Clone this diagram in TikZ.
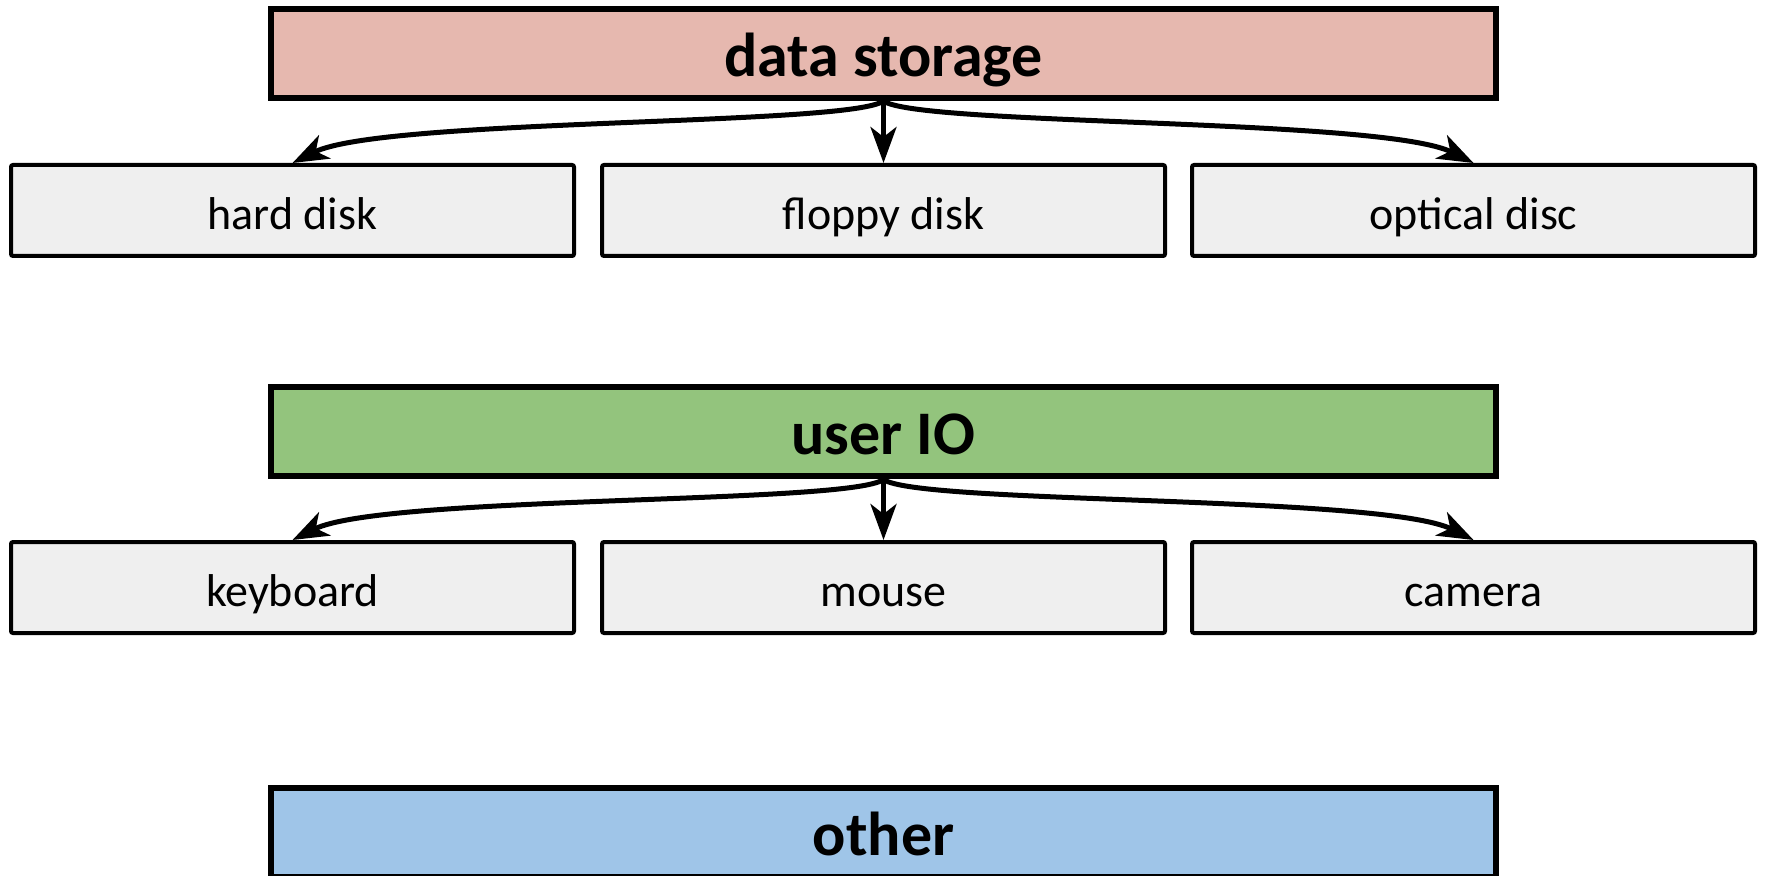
\documentclass[tikz,border=0pt]{standalone}
\usepackage{fontspec}
\setmainfont{Carlito}
\usetikzlibrary{arrows.meta}
\definecolor{hdred}{HTML}{E6B8AF}
\definecolor{hdgreen}{HTML}{93C47D}
\definecolor{hdblue}{HTML}{9FC5E8}
\definecolor{childgray}{HTML}{EFEFEF}
\tikzset{
  headbox/.style={draw=black, line width=3pt, minimum width=612.5pt, minimum height=44.5pt, inner sep=0pt, text height=23pt, text depth=0pt, font=\fontsize{31}{36}\selectfont\bfseries},
  childbox/.style={draw=black, line width=2pt, fill=childgray, rounded corners=1pt, minimum width=281.5pt, minimum height=45.5pt, inner sep=0pt, text height=19pt, text depth=0pt, font=\fontsize{23}{28}\selectfont},
  conn/.style={line width=2.5pt, -{Stealth[length=18pt,width=13pt,inset=5pt]}}
}
\begin{document}
\begin{tikzpicture}[x=0.5pt,y=-0.5pt]
\useasboundingbox (0,0) rectangle (1765,876);
\clip (0,0) rectangle (1765,876);
\node[headbox, fill=hdred] (h1) at (883.5,53.5) {data storage};
\node[childbox] (c11) at (292.5,210.5) {hard disk};
\node[childbox] (c12) at (883.5,210.5) {floppy disk};
\node[childbox] (c13) at (1473.5,210.5) {optical disc};
\draw[conn] (h1.south) .. controls +(-35,25) and +(90,-45) .. (c11.north);
\draw[conn] (h1.south) -- (c12.north);
\draw[conn] (h1.south) .. controls +(35,25) and +(-90,-45) .. (c13.north);
\node[headbox, fill=hdgreen] (h2) at (883.5,432) {user IO};
\node[childbox] (c21) at (292.5,587.5) {keyboard};
\node[childbox] (c22) at (883.5,587.5) {mouse};
\node[childbox] (c23) at (1473.5,587.5) {camera};
\draw[conn] (h2.south) .. controls +(-35,25) and +(90,-45) .. (c21.north);
\draw[conn] (h2.south) -- (c22.north);
\draw[conn] (h2.south) .. controls +(35,25) and +(-90,-45) .. (c23.north);
\node[headbox, fill=hdblue] (h3) at (883.5,832.5) {other};
\end{tikzpicture}
\end{document}
